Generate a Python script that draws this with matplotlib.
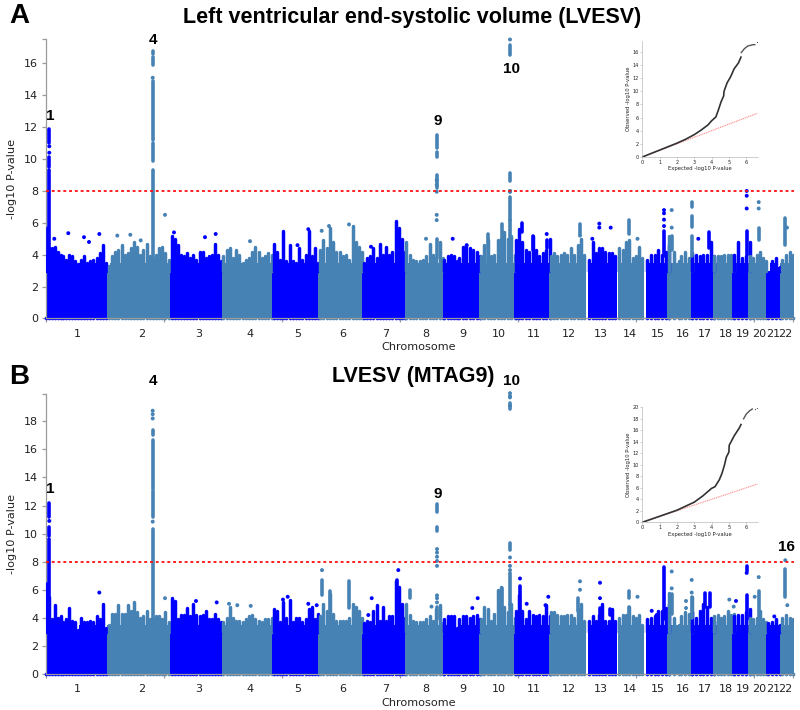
"""
Manhattan plots of LVESV and LVESV (MTAG9) with QQ insets
"""
import matplotlib
matplotlib.use('Agg')
import matplotlib.pyplot as plt
import numpy as np

W, H = 800, 710
BLUE = '#0000ff'
STEEL = '#4682b4'
GREY = '#9a9a9a'
TXT = '#222222'

# genome position (scaled so the whole genome is 748 long)
seg_chr   = [1, 1, 2, 3, 4, 5, 6, 7, 8, 9, 9, 10, 11, 12, 13, 14, 15, 16, 16, 17, 18, 19, 20, 21, 22]
seg_start = [0.5, 32, 63.5, 126, 178, 228, 274.5, 318.5, 361, 399, 414, 435.5, 470, 505, 544, 574, 602, 624, 635.5, 647, 669, 689, 704.5, 723, 736.5]
seg_end   = [29.5, 60.5, 123, 176, 226, 273, 317, 359.5, 397.5, 412, 434.5, 469, 504, 539, 569.5, 597, 624, 634, 647, 669, 689, 704.5, 721, 734.5, 748]

chrom_names = [str(c) for c in range(1, 23)]
chrom_label_x = [32.2, 96.2, 153.5, 204.2, 252.2, 297.5, 340.5, 380.5, 417.5, 453.5, 488.2,
                 523.5, 555.5, 584.5, 612, 637, 659, 680.2, 697.5, 713.5, 727.5, 740.2]
axis_ticks = [0, 118, 236, 354.5, 472.5, 590.5, 708.5, 748]

# upper edge of the mass of points, one list per chromosome segment
a_sky = [
    [3.9, 4.4, 4.4, 4.5, 4.2, 4.0, 3.9, 3.7, 4.0, 3.9, 3.6],
    [3.4, 3.7, 3.9, 3.5, 3.6, 3.7, 3.8, 4.1, 4.6, 3.5],
    [3.3, 3.9, 4.2, 4.3, 4.6, 4.0, 4.1, 4.4, 4.8, 4.5, 4.0, 4.3, 4.7, 3.9, 3.8, 4.0, 4.4, 4.5, 4.1, 3.7],
    [5.2, 5.0, 4.6, 4.0, 3.9, 4.1, 3.8, 4.0, 3.7, 4.2, 4.2, 3.8, 3.9, 4.0, 4.7, 4.0, 3.6],
    [3.9, 4.3, 4.4, 3.8, 4.3, 4.0, 3.5, 3.7, 3.8, 4.2, 4.5, 4.2, 3.8, 3.9, 4.1, 4.0],
    [4.7, 4.2, 3.7, 5.5, 3.6, 4.6, 3.6, 3.5, 4.4, 3.7, 4.0, 5.5, 3.9, 4.4, 3.5],
    [4.3, 4.9, 4.4, 5.7, 4.8, 4.2, 4.2, 3.9, 4.0, 3.7, 5.8, 4.8, 4.5, 4.2],
    [3.5, 3.8, 3.9, 4.4, 3.8, 4.7, 4.0, 4.5, 4.0, 4.2, 6.1, 5.7, 5.0, 4.2],
    [4.8, 4.0, 3.7, 3.6, 3.6, 3.7, 3.9, 4.7, 4.0, 3.8, 4.8, 3.8],
    [3.7, 3.9, 4.0, 3.9, 3.6],
    [3.8, 4.5, 4.6, 4.4, 4.3, 4.2, 3.9],
    [3.9, 4.6, 4.9, 3.9, 4.0, 4.9, 5.0, 5.4, 5.0, 5.2, 4.0],
    [4.9, 5.6, 4.8, 4.3, 4.2, 5.2, 4.3, 3.9, 4.1, 4.3, 5.0],
    [3.9, 4.1, 3.9, 4.0, 4.1, 4.0, 4.4, 4.0, 4.6, 5.0, 4.0],
    [3.7, 4.8, 4.1, 4.4, 4.4, 4.2, 4.1, 4.1, 3.9],
    [4.4, 4.3, 4.8, 4.9, 3.8, 3.9, 4.5, 3.8],
    [3.7, 4.0, 4.0, 4.3, 4.0, 4.2, 4.6],
    [5.2, 4.2, 3.6],
    [3.9, 4.2, 3.8, 4.0],
    [4.1, 4.0, 3.9, 4.0, 4.0, 4.8, 3.9],
    [3.9, 3.9, 3.9, 4.0, 4.0, 4.0, 4.0],
    [4.0, 4.8, 3.8, 3.9, 4.8],
    [3.9, 3.8, 4.0, 4.2, 3.8, 3.6],
    [3.0, 3.6, 3.8, 3.2],
    [3.7, 4.0, 4.2, 4.0],
]
b_sky = [
    [3.6, 5.5, 3.9, 4.9, 4.0, 4.1, 3.7, 3.9, 4.7, 3.8, 3.7],
    [3.1, 4.0, 3.7, 3.7, 3.8, 3.7, 4.1, 3.9, 5.0, 3.3],
    [3.5, 4.3, 4.3, 4.9, 4.3, 4.3, 4.9, 4.5, 5.1, 4.4, 4.0, 4.1, 4.5, 3.9, 4.0, 4.1, 4.1, 3.9, 4.4, 3.7],
    [5.4, 5.2, 3.9, 4.2, 4.2, 4.7, 4.1, 5.0, 4.2, 4.1, 4.2, 4.5, 3.9, 3.9, 4.3, 3.9, 3.7],
    [3.7, 4.0, 4.8, 4.0, 3.8, 3.8, 3.7, 3.9, 4.1, 4.2, 3.9, 3.8, 3.7, 3.9, 3.9, 4.0],
    [4.6, 4.5, 3.7, 5.1, 4.0, 5.3, 3.7, 4.0, 4.0, 3.7, 3.9, 4.6, 4.8, 3.9, 4.3],
    [4.1, 5.0, 4.5, 5.7, 4.3, 3.8, 3.8, 3.8, 3.8, 4.0, 5.0, 4.8, 4.5, 4.0],
    [3.6, 3.8, 3.7, 4.5, 4.9, 3.8, 4.8, 3.8, 4.1, 4.1, 6.6, 6.2, 5.0, 4.0],
    [5.0, 4.2, 3.8, 3.7, 3.7, 3.7, 3.9, 4.1, 3.8, 4.6, 4.9, 3.6],
    [3.9, 4.1, 4.1, 4.1, 3.3],
    [3.9, 4.1, 4.1, 4.0, 4.1, 4.2, 3.9],
    [3.9, 4.8, 4.6, 3.8, 4.3, 6.0, 6.2, 4.8, 4.4, 5.0, 4.0],
    [4.5, 5.6, 4.5, 3.9, 4.5, 4.2, 4.1, 4.2, 4.1, 4.9, 4.1],
    [4.4, 4.4, 4.2, 4.1, 4.1, 4.2, 4.2, 4.0, 4.6, 5.0, 3.8],
    [3.8, 4.1, 3.8, 4.2, 5.0, 3.8, 3.8, 4.6, 3.8],
    [4.0, 4.2, 4.2, 4.8, 4.1, 4.0, 4.2, 3.5],
    [3.9, 4.0, 4.1, 4.5, 4.5, 4.7, 5.0],
    [5.8, 4.0, 3.5],
    [4.1, 4.4, 4.3, 5.5],
    [4.4, 4.0, 4.5, 5.0, 4.8, 4.0, 3.8],
    [4.1, 4.2, 4.0, 4.1, 4.5, 4.2, 4.3],
    [4.1, 4.2, 4.2, 4.4, 4.6],
    [4.0, 3.9, 4.0, 4.5, 3.9, 3.7],
    [3.6, 3.7, 3.9, 3.5],
    [4.0, 4.2, 4.0, 3.9],
]

# solid runs of points above the mass
a_run_x  = [3.8, 3.8, 3.8, 2.0, 107.2, 107.2, 107.2, 107.2, 107.2, 391.2, 391.2, 391.2, 391.2, 464.5, 464.5, 464.5, 464.5,
            456.2, 443.0, 701.2, 646.2, 646.2, 646.2, 713.2, 739.5, 618.5, 626.2, 583.2, 534.5, 476.2, 487.2, 501.2, 663.5]
a_run_lo = [3.0, 9.5, 11.0, 3.0, 3.0, 9.9, 11.2, 15.9, 16.6, 10.7, 10.1, 8.2, 3.8, 16.5, 8.6, 6.2, 3.5,
            3.5, 3.5, 4.0, 7.0, 5.75, 3.9, 4.9, 4.6, 3.9, 4.3, 5.3, 5.3, 5.4, 4.3, 4.4, 4.4]
a_run_hi = [9.3, 10.1, 11.9, 5.7, 9.3, 11.0, 14.9, 16.4, 16.8, 11.5, 10.45, 9.0, 5.0, 17.15, 9.1, 7.6, 6.2,
            5.9, 5.3, 5.5, 7.3, 6.4, 5.2, 5.7, 6.3, 5.5, 5.2, 6.2, 5.9, 6.0, 5.2, 4.9, 5.4]
b_run_x  = [3.8, 3.8, 3.8, 1.5, 107.2, 107.2, 107.2, 107.2, 391.5, 391.5, 391.5, 464.5, 464.5, 464.5, 464.5,
            456.2, 474.5, 532.8, 554.5, 564.5, 583.2, 583.2, 618.5, 626.2, 646.2, 659.8, 664.8, 701.2, 701.2, 713.2, 739.8,
            276.5, 284.5, 303.8, 351.2, 364.5]
b_run_lo = [3.0, 9.8, 11.2, 3.0, 3.0, 11.2, 13.2, 17.0, 10.2, 11.55, 3.9, 18.9, 8.85, 5.0, 3.5,
            3.5, 4.5, 4.5, 3.8, 4.2, 5.4, 4.0, 3.9, 4.3, 4.0, 4.8, 4.8, 7.3, 3.9, 4.0, 5.5,
            5.6, 4.2, 4.7, 4.0, 5.4]
b_run_hi = [9.6, 10.5, 12.2, 6.4, 10.3, 13.0, 16.7, 17.4, 10.5, 12.1, 4.8, 19.3, 9.3, 7.2, 5.0,
            6.1, 6.3, 5.4, 4.7, 4.6, 5.9, 4.8, 7.6, 5.7, 5.5, 5.8, 5.8, 7.7, 5.6, 5.9, 7.5,
            6.7, 5.9, 6.6, 6.7, 6.0]

# isolated points
a_dot_x = [3.8, 3.8, 107.2, 119.5, 391.2, 391.2, 391.2, 391.2, 391.2, 464.5, 464.5, 464.5, 701.2, 701.2, 701.2, 713.2, 713.2,
           741.5, 618.5, 618.5, 618.5, 618.5, 626.2, 626.2, 592.0, 553.8, 553.8, 565.2, 546.8, 534.5, 501.2, 407.2, 421.2,
           380.5, 652.8, 22.8, 38.5, 43.5, 53.8, 8.8, 71.8, 84.8, 95.2, 128.5, 159.5, 170.2, 204.5, 252.0, 262.8, 276.2,
           283.5, 303.5, 325.5, 464.5, 464.5]
a_dot_y = [10.4, 10.8, 15.1, 6.5, 8.68, 8.37, 7.95, 6.5, 6.17, 17.5, 7.95, 8.0, 8.0, 7.7, 6.9, 7.3, 6.9,
           5.7, 6.8, 6.6, 6.2, 5.8, 6.8, 5.7, 5.0, 5.95, 5.7, 5.7, 5.0, 5.2, 5.3, 5.0, 4.6,
           5.0, 5.0, 5.35, 5.1, 4.8, 5.3, 5.0, 5.2, 5.25, 4.9, 5.4, 5.1, 5.3, 4.85, 4.6, 5.6, 5.5,
           5.8, 5.9, 4.5, 7.95, 8.0]
b_dot_x = [3.8, 107.2, 107.2, 107.2, 107.2, 391.5, 391.5, 391.5, 391.5, 391.5, 391.5, 391.5, 391.5, 464.5, 464.5, 464.5, 464.5,
           464.5, 464.5, 464.5, 474.5, 481.2, 502.8, 500.0, 534.5, 534.5, 554.5, 554.5, 592.0, 606.2, 611.2, 626.2, 626.2,
           646.2, 646.2, 640.5, 640.5, 683.8, 688.2, 701.2, 690.5, 713.2, 709.2, 728.8, 739.8, 741.8, 276.5, 271.2, 352.8,
           326.2, 322.8, 242.2, 237.5, 262.8, 150.5, 171.2, 183.5, 191.8, 205.2, 432.2, 426.8, 119.5, 386.0, 53.8]
b_dot_y = [10.9, 10.85, 18.2, 18.5, 18.75, 8.9, 8.65, 8.35, 8.05, 7.7, 5.6, 5.4, 5.1, 20.0, 19.8, 19.7, 8.3,
           7.7, 7.4, 19.1, 6.8, 5.0, 5.5, 4.9, 6.6, 6.0, 6.5, 5.4, 5.5, 4.5, 4.2, 7.3, 6.1,
           6.7, 5.8, 5.2, 4.7, 5.3, 4.8, 7.2, 5.2, 6.9, 5.5, 4.1, 8.1, 4.9, 7.4, 4.9, 7.4,
           5.4, 4.2, 5.5, 5.3, 5.0, 5.2, 5.1, 5.0, 4.9, 4.85, 5.4, 4.7, 5.4, 4.8, 5.8]

# QQ insets
a_qq_exp = [0, 1, 2, 2.5, 3, 3.4, 3.8, 4.0, 4.25, 4.4, 4.55, 4.7, 4.72, 4.9, 5.1, 5.3, 5.55, 5.7]
a_qq_obs = [0, 1.05, 2.1, 2.7, 3.4, 4.1, 4.9, 5.5, 6.1, 7.2, 8.4, 9.3, 10.0, 11.3, 12.2, 13.4, 14.3, 15.2]
a_qq_exp2 = [5.72, 5.9, 6.1, 6.4, 6.5]
a_qq_obs2 = [15.9, 16.5, 16.9, 17.1, 17.1]
b_qq_exp = [0, 1, 2, 3, 3.5, 4, 4.2, 4.45, 4.6, 4.75, 4.85, 5.0, 5.02, 5.3, 5.6, 5.7]
b_qq_obs = [0, 1.05, 2.1, 3.5, 4.6, 5.9, 6.2, 7.4, 8.5, 10.0, 11.3, 12.2, 13.4, 15.0, 16.4, 17.0]
b_qq_exp2 = [5.85, 6.0, 6.2, 6.35]
b_qq_obs2 = [18.0, 18.8, 19.4, 19.7]
qq_null = [0, 6.65]


def px_axes(fig, left, right, top, bottom):
    return fig.add_axes([left / W, 1 - bottom / H, (right - left) / W, (bottom - top) / H])


def chrom_colour(x):
    idx = np.searchsorted(seg_start, x, side='right') - 1
    return BLUE if seg_chr[idx] % 2 else STEEL


def style_axis(ax, size, tick_len, colour=GREY):
    for side in ['top', 'right']:
        ax.spines[side].set_visible(False)
    for side in ['left', 'bottom']:
        ax.spines[side].set_color(colour)
        ax.spines[side].set_linewidth(0.9 if size > 5 else 0.4)
    ax.tick_params(which='major', length=tick_len, width=0.9 if size > 5 else 0.4, color=colour,
                   labelsize=size, labelcolor=TXT, pad=2 if size > 5 else 1)


def manhattan(ax, sky, run_x, run_lo, run_hi, dot_x, dot_y, ymax, yticks):
    for s, heights in enumerate(sky):
        colour = BLUE if seg_chr[s] % 2 else STEEL
        xs = np.linspace(seg_start[s], seg_end[s], len(heights))
        width = (seg_end[s] - seg_start[s]) / max(len(heights) - 1, 1)
        # solid body up to where the columns start to separate
        ax.bar(xs, np.minimum(heights, 3.5), width=width * 1.05, color=colour, linewidth=0, zorder=2)
        ax.vlines(xs, 3.0, heights, colors=colour, linewidth=2.5, capstyle='round', zorder=3)
        ax.scatter(xs, np.zeros(len(xs)), s=7, color=colour, linewidth=0, zorder=2, clip_on=False)
    run_col = [chrom_colour(x) for x in run_x]
    ax.vlines(run_x, run_lo, run_hi, colors=run_col, linewidth=2.6, capstyle='round', zorder=4)
    ax.scatter(dot_x, dot_y, s=8, c=[chrom_colour(x) for x in dot_x], linewidth=0, zorder=4, clip_on=False)
    ax.axhline(8, color='#ff1010', linewidth=1.3, dashes=(1.6, 1.6), zorder=5)
    ax.set_xlim(0, 748)
    ax.set_ylim(0, ymax)
    ax.set_yticks(list(yticks) + [ymax], labels=[str(t) for t in yticks] + [''])
    ax.set_xticks(axis_ticks)
    ax.set_xticklabels([])
    ax.set_xticks(chrom_label_x, labels=chrom_names, minor=True)
    style_axis(ax, 8.0, 3.2)
    ax.tick_params(axis='x', which='minor', length=0, labelsize=8.0, labelcolor=TXT, pad=7.5)
    ax.set_ylabel('-log10 P-value', fontsize=8.1, color=TXT, labelpad=5)


def qq_inset(ax, exp1, obs1, exp2, obs2, ymax, yticks, extra):
    ax.plot(qq_null, qq_null, color='#ff8a8a', linewidth=0.8, dashes=(1, 0.7), zorder=1)
    ax.plot(exp1, obs1, color='#333333', linewidth=1.2, zorder=2)
    ax.plot(exp2, obs2, color='#555555', linewidth=1.0, zorder=2)
    ax.scatter(extra[0], extra[1], s=0.8, color='#555555', linewidth=0, zorder=2)
    ax.set_xlim(0, 6.7)
    ax.set_ylim(0, ymax)
    ax.set_xticks(range(7))
    ax.set_yticks(yticks)
    style_axis(ax, 3.6, 1.2, colour='#aaaaaa')
    ax.set_xlabel('Expected -log10 P-value', fontsize=3.8, color=TXT, labelpad=1)
    ax.set_ylabel('Observed -log10 P-value', fontsize=3.8, color=TXT, labelpad=1)


plt.rcParams['font.family'] = ['DejaVu Sans']
fig = plt.figure(figsize=(W / 100, H / 100), dpi=100, facecolor='white')

ax_a = px_axes(fig, 45.5, 793.5, 39, 318.5)
manhattan(ax_a, a_sky, a_run_x, a_run_lo, a_run_hi, a_dot_x, a_dot_y, 17.53, range(0, 17, 2))
ax_b = px_axes(fig, 45.5, 793.5, 394.3, 674)
manhattan(ax_b, b_sky, b_run_x, b_run_lo, b_run_hi, b_dot_x, b_dot_y, 19.92, range(0, 19, 2))

ins_a = px_axes(fig, 642.3, 758.3, 40.7, 157)
qq_inset(ins_a, a_qq_exp, a_qq_obs, a_qq_exp2, a_qq_obs2, 17.7, range(0, 17, 2), ([6.65], [17.5]))
ins_b = px_axes(fig, 642.3, 758.3, 407.3, 522.3)
qq_inset(ins_b, b_qq_exp, b_qq_obs, b_qq_exp2, b_qq_obs2, 20, range(0, 21, 2), ([6.5, 6.65], [19.75, 19.9]))


def fig_text(x, y, s, size):
    fig.text(x / W, 1 - y / H, s, fontsize=size, family='Liberation Sans', fontweight='bold',
             ha='center', va='center', color='black')


fig_text(19.5, 16, 'A', 20)
fig_text(19.5, 377, 'B', 20)
fig_text(412, 17, 'Left ventricular end-systolic volume (LVESV)', 15.5)
fig_text(413, 377, 'LVESV (MTAG9)', 15.5)

fig.text(419 / W, 1 - 347 / H, 'Chromosome', fontsize=8.1, color=TXT, ha='center', va='center')
fig.text(419 / W, 1 - 703 / H, 'Chromosome', fontsize=8.1, color=TXT, ha='center', va='center')

for x, y, s in [(50, 116, '1'), (153, 40, '4'), (438, 121, '9'), (512, 69, '10'),
                (50, 489, '1'), (153, 381, '4'), (438, 494, '9'), (512, 381, '10'), (786, 547, '16')]:
    fig_text(x, y, s, 11)

fig.savefig('out.png', dpi=100)
